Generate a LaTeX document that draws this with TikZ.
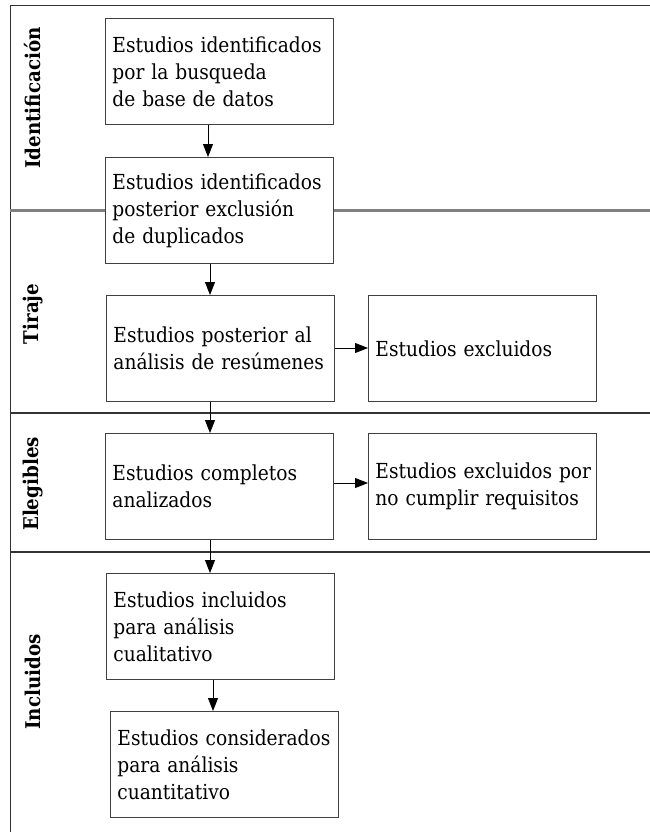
\documentclass[tikz,border=0pt]{standalone}
\usepackage{fontspec}
\setmainfont{DejaVu Serif Condensed}
\usetikzlibrary{arrows.meta}
\begin{document}
\begin{tikzpicture}[x=1pt,y=-1pt,
  stepbox/.style={draw=black!75, line width=0.9pt, fill=white, anchor=north west,
    text width=220pt, inner xsep=4pt, inner ysep=0pt, minimum height=106pt, align=left,
    font=\fontsize{20.7}{27}\selectfont},
  flow/.style={line width=0.9pt, -{Triangle[length=13pt,width=10pt]}},
  lane/.style={rotate=90, font=\fontsize{20.3}{22}\selectfont\bfseries},
  frame/.style={draw=black!80, line width=1pt},
  divider/.style={draw=black!80, line width=1.3pt}]
\useasboundingbox (0,0) rectangle (650,832);
\fill[white] (0,0) rectangle (650,832);
% frame and dividers
\coordinate (tl) at (10,6);
\coordinate (tr) at (650,6);
\coordinate (bl) at (10,832);
\draw[frame] (tr) -- (tl) -- (bl);
\coordinate (d1a) at (10,210); \coordinate (d1b) at (650,210);
\coordinate (d2a) at (10,413); \coordinate (d2b) at (650,413);
\coordinate (d3a) at (10,552); \coordinate (d3b) at (650,552);
\draw[draw=black!50, line width=3pt] (d1a) -- (d1b);
\draw[divider] (d2a) -- (d2b);
\draw[divider] (d3a) -- (d3b);
% lane labels
\node[lane] (l1) at (33,98) {Identificación};
\node[lane] (l2) at (33,314) {Tiraje};
\node[lane] (l3) at (33,484) {Elegibles};
\node[lane] (l4) at (33,682) {Incluidos};
% boxes
\node[stepbox] (b1) at (105,18) {\hspace*{3pt}Estudios identificados\\\hspace*{3pt}por la busqueda\\\hspace*{3pt}de base de datos};
\node[stepbox] (b2) at (105,157) {\hspace*{3pt}Estudios identificados\\\hspace*{3pt}posterior exclusión\\\hspace*{3pt}de duplicados};
\node[stepbox] (b3) at (106,295) {\hspace*{3pt}Estudios posterior al\\\hspace*{3pt}análisis de resúmenes};
\node[stepbox] (e1) at (368,295) {\hspace*{3pt}Estudios excluidos};
\node[stepbox] (b4) at (105,433) {\hspace*{3pt}Estudios completos\\\hspace*{3pt}analizados};
\node[stepbox] (e2) at (368,433) {\hspace*{3pt}Estudios excluidos por\\\hspace*{3pt}no cumplir requisitos};
\node[stepbox] (b5) at (106,573) {\hspace*{3pt}Estudios incluidos\\\hspace*{3pt}para análisis\\\hspace*{3pt}cualitativo};
\node[stepbox] (b6) at (110,711) {\hspace*{3pt}Estudios considerados\\\hspace*{3pt}para análisis\\\hspace*{3pt}cuantitativo};
% connectors
\draw[flow] (b1.south -| 208,0) -- (b2.north -| 208,0);
\draw[flow] (b2.south -| 210,0) -- (b3.north -| 210,0);
\draw[flow] (b3.south -| 210,0) -- (b4.north -| 210,0);
\draw[flow] (b4.south -| 210,0) -- (b5.north -| 210,0);
\draw[flow] (b5.south -| 213,0) -- (b6.north -| 213,0);
\draw[flow] (b3.east |- 0,348) -- (e1.west |- 0,348);
\draw[flow] (b4.east |- 0,483) -- (e2.west |- 0,483);
\end{tikzpicture}
\end{document}
